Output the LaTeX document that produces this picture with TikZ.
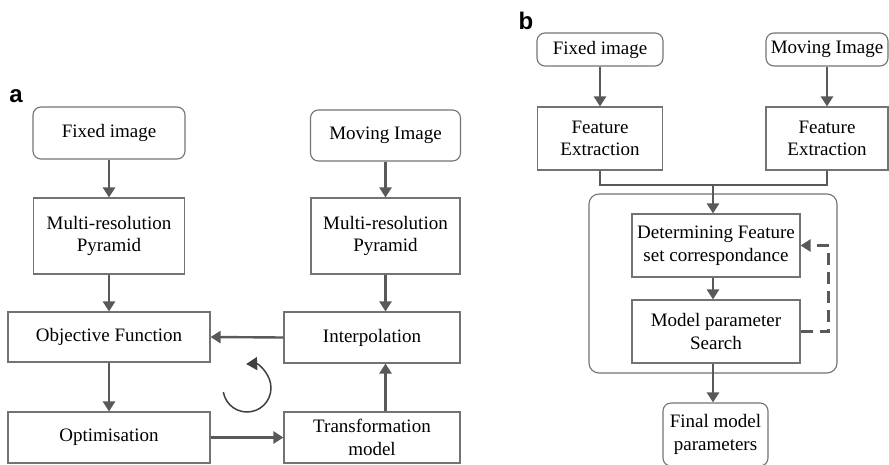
\documentclass[tikz,border=0pt]{standalone}
\usepackage{fontspec}
\setmainfont{Liberation Serif}
\newfontfamily\boxfont{Liberation Serif}
\newfontfamily\panelfont{Liberation Sans}
\usetikzlibrary{arrows.meta,positioning}
\colorlet{edgegray}{black!65}
\colorlet{boxgray}{black!55}

\tikzset{
  stage/.style={draw=boxgray,line width=1.1pt,align=center,inner sep=0pt,
    font=\boxfont\fontsize{19}{22.5}\selectfont},
  source/.style={stage,rounded corners=8pt},
  flow/.style={->,edgegray,line width=2.4pt},
  panel/.style={font=\panelfont\bfseries\fontsize{24}{24}\selectfont,inner sep=0pt},
}

\begin{document}
\begin{tikzpicture}[x=1pt,y=1pt,>={Triangle[length=10pt,width=12pt]}]
\useasboundingbox (0,0) rectangle (889,-464);

% panel a: intensity based registration loop
\node[panel] (labA) at (16,-96) {a};
\node[source,minimum width=152,minimum height=52] (fixA) at (109,-133) {Fixed image};
\node[stage,minimum width=151,minimum height=76] (pyrA) at (109,-236) {Multi-resolution\\Pyramid};
\node[stage,minimum width=202,minimum height=50] (obj) at (109,-337) {Objective Function};
\node[stage,minimum width=202,minimum height=51] (opt) at (109,-437.5) {Optimisation};
\node[source,minimum width=150,minimum height=51] (movA) at (385.5,-135.5) {Moving Image};
\node[stage,minimum width=149,minimum height=76] (pyrB) at (385.5,-236) {Multi-resolution\\Pyramid};
\node[stage,minimum width=176,minimum height=51] (interp) at (372,-337.5) {Interpolation};
\node[stage,minimum width=176,minimum height=51] (trans) at (372,-437.5) {Transformation\\model};

\draw[flow] (fixA) -- (pyrA);
\draw[flow] (pyrA) -- (obj);
\draw[flow] (obj) -- (opt);
\draw[flow] (movA) -- (pyrB);
\draw[flow] (pyrB.south) -- (pyrB.south |- interp.north);
\draw[flow] (interp.west) -- (obj.east);
\draw[flow] (opt.east) -- (trans.west);
\draw[flow] (trans.north -| pyrB.south) -- (interp.south -| pyrB.south);

% iteration symbol
\coordinate (loop) at (247,-388);
\draw[black!75,line width=1.5pt,->,>={Triangle[length=11pt,width=13pt]}]
  ([shift={(190:24)}]loop) arc[start angle=190,end angle=452,radius=24];

% panel b: feature based registration
\node[panel] (labB) at (526,-21) {b};
\node[source,minimum width=126,minimum height=33] (fixB) at (600,-49.5) {Fixed image};
\node[source,minimum width=122,minimum height=33] (movB) at (827,-49.5) {Moving Image};
\node[stage,minimum width=125,minimum height=63] (featL) at (600,-138.5) {Feature\\Extraction};
\node[stage,minimum width=122,minimum height=63] (featR) at (827,-138.5) {Feature\\Extraction};
\node[source,rounded corners=10pt,minimum width=248,minimum height=179] (group) at (713,-283.5) {};
\node[stage,minimum width=168,minimum height=63] (detm) at (716,-245.5) {Determining Feature\\set correspondance};
\node[stage,minimum width=168,minimum height=63] (search) at (716,-331.5) {Model parameter\\Search};
\node[source,minimum width=105,minimum height=63] (final) at (715.5,-434.5) {Final model\\parameters};

\coordinate (merge) at (713,-185);
\draw[flow] (fixB) -- (featL);
\draw[flow] (movB) -- (featR);
\draw[edgegray,line width=2.4pt] (featL.south) |- (merge) -| (featR.south);
\draw[flow] (merge) -- (merge |- detm.north);
\draw[flow] (detm.south -| merge) -- (search.north -| merge);
\draw[flow] (search.south -| merge) -- (final.north -| merge);
\draw[flow,dash pattern=on 12pt off 7pt] (search.east) -- ++(28,0) |- (detm.east);
\end{tikzpicture}
\end{document}
